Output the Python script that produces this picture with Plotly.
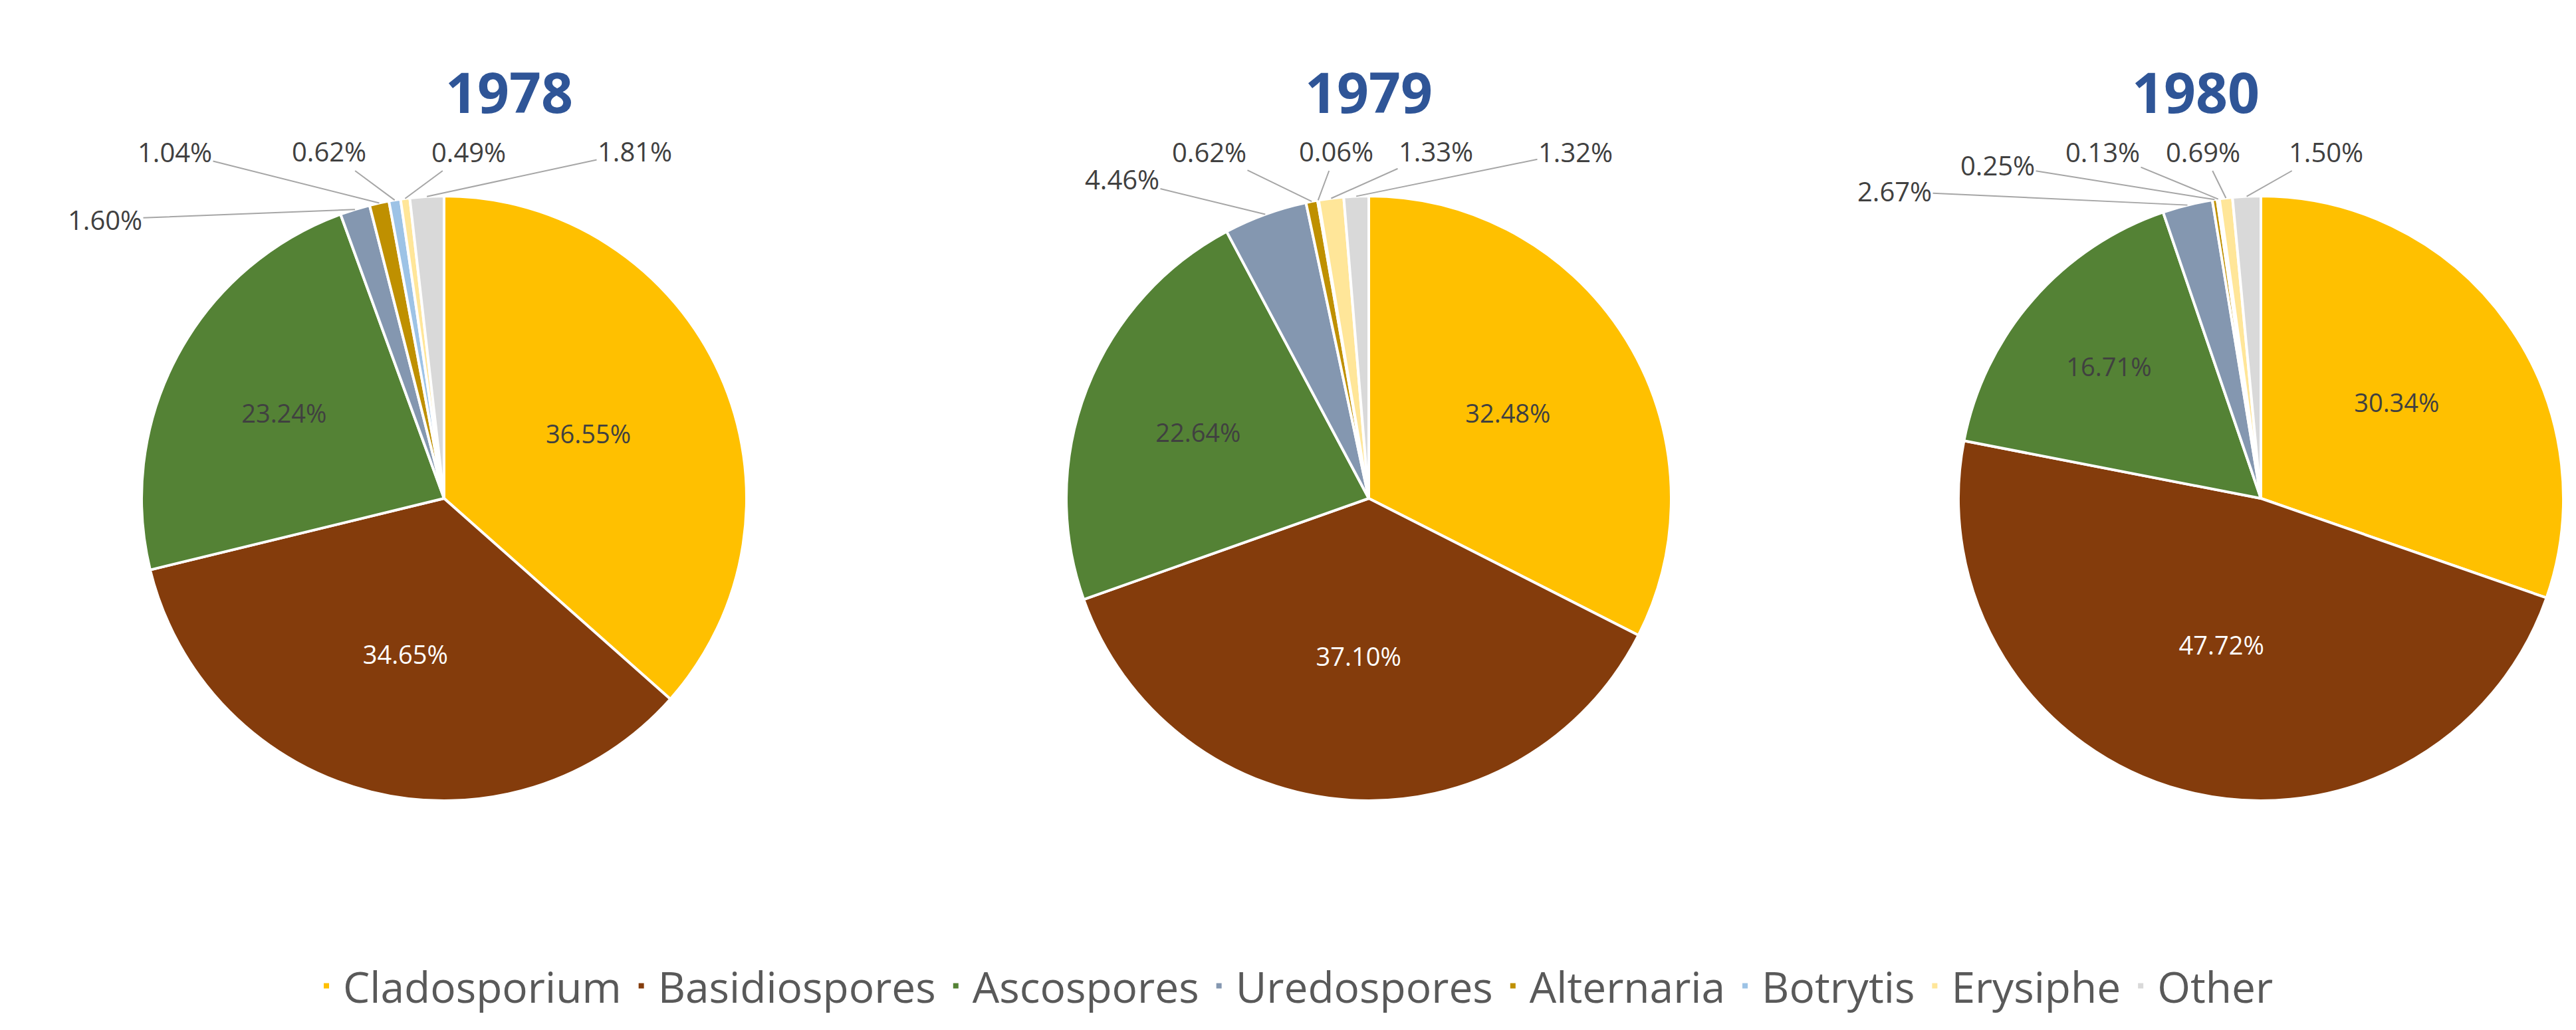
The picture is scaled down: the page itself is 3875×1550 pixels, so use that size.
import math
import plotly.graph_objects as go

W, H = 3875, 1550
categories = ["Cladosporium", "Basidiospores", "Ascospores", "Uredospores",
              "Alternaria", "Botrytis", "Erysiphe", "Other"]
years = ["1978", "1979", "1980"]
v1978 = [36.55, 34.65, 23.24, 1.60, 1.04, 0.62, 0.49, 1.81]
v1979 = [32.48, 37.10, 22.64, 4.46, 0.62, 0.06, 1.33, 1.32]
v1980 = [30.34, 47.72, 16.71, 2.67, 0.25, 0.13, 0.69, 1.50]
values = [v1978, v1979, v1980]
colors = ["#FFC000", "#843C0C", "#548235", "#8497B0", "#BF9000", "#9DC3E6", "#FFE699", "#D9D9D9"]
inside_font = ["#404040", "white", "#404040"]

# layout (pixels)
centers = [(660, 742), (2051, 742), (3393, 742)]
R = 455
label_pos = [
    [(150, 322), (255, 220), (487, 220), (697, 220), (947, 220)],
    [(1680, 262), (1811, 220), (2002, 220), (2152, 220), (2362, 220)],
    [(2842, 280), (2997, 240), (3155, 220), (3306, 220), (3491, 220)],
]

fig = go.Figure()
annotations = []
for i, (yr, vals) in enumerate(zip(years, values)):
    cx, cy = centers[i]
    text = [f"{v:.2f}%" if j < 3 else "" for j, v in enumerate(vals)]
    fig.add_trace(go.Pie(
        labels=categories, values=vals, sort=False, direction="clockwise", rotation=0,
        text=text, textinfo="text", textposition="inside", insidetextorientation="horizontal",
        insidetextfont=dict(size=38, color=inside_font, family="Open Sans"),
        marker=dict(colors=colors, line=dict(color="white", width=4)),
        domain=dict(x=[(cx - R) / W, (cx + R) / W], y=[1 - (cy + R) / H, 1 - (cy - R) / H]),
        showlegend=(i == 0), hoverinfo="label+percent",
    ))
    annotations.append(dict(text=f"<b>{yr}</b>", x=cx / W, y=1 - 70 / H, xref="paper", yref="paper",
                            showarrow=False, font=dict(size=84, color="#2F5597", family="Open Sans")))
    total = sum(vals)
    cum = 0
    k = 0
    for j, v in enumerate(vals):
        mid = (cum + v / 2) / total * 2 * math.pi
        cum += v
        if j < 3:
            continue
        tx = cx + R * math.sin(mid)
        ty = cy - R * math.cos(mid)
        lx, ly = label_pos[i][k]
        k += 1
        annotations.append(dict(text=f"{v:.2f}%", x=tx / W, y=1 - ty / H, xref="paper", yref="paper",
                                ax=lx - tx, ay=ly - ty, showarrow=True, arrowhead=0, arrowwidth=2,
                                arrowcolor="#A6A6A6", font=dict(size=40, color="#404040", family="Open Sans")))

fig.update_layout(
    width=W, height=H, margin=dict(l=0, r=0, t=0, b=0),
    paper_bgcolor="white", plot_bgcolor="white",
    annotations=annotations,
    legend=dict(orientation="h", x=0.5, xanchor="center", y=1 - 1476 / H, yanchor="middle",
                font=dict(size=64, color="#595959", family="Open Sans"), itemwidth=40),
)
fig.write_html("out.html")
